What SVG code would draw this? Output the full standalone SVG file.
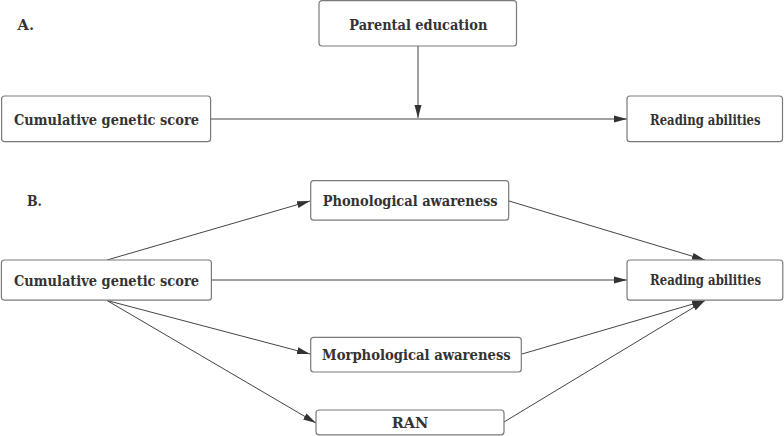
<svg xmlns="http://www.w3.org/2000/svg" width="784" height="436" viewBox="0 0 784 436">
<style>
.box{fill:#fff;stroke:#7a7a7a;stroke-width:1.2}
.t{font-family:'DejaVu Serif','Liberation Serif',serif;font-weight:700;font-size:14px;fill:#333;text-anchor:middle}
.l{font-family:'DejaVu Serif','Liberation Serif',serif;font-weight:700;font-size:14px;fill:#333}
.c{stroke:#444;stroke-width:1;fill:none;marker-end:url(#ah)}
</style>
<defs>
<marker id="ah" markerUnits="userSpaceOnUse" markerWidth="14" markerHeight="10" viewBox="0 0 14 10" refX="13" refY="5" orient="auto">
<path d="M0,1.5 L13,5 L0,8.5 Z" fill="#333"/>
</marker>
</defs>
<rect width="784" height="436" fill="#fff"/>
<text class="l" x="17.5" y="29.5" textLength="16.5" lengthAdjust="spacingAndGlyphs">A.</text>
<text class="l" x="27" y="206" textLength="15" lengthAdjust="spacingAndGlyphs">B.</text>
<g id="connectors">
<line class="c" x1="210.5" y1="119" x2="627" y2="119"/>
<line class="c" x1="418" y1="46" x2="418" y2="118"/>
<line class="c" x1="107" y1="260" x2="310" y2="201"/>
<line class="c" x1="211" y1="280" x2="627" y2="280"/>
<line class="c" x1="107" y1="300.5" x2="310" y2="354"/>
<line class="c" x1="107" y1="300.5" x2="316" y2="423"/>
<line class="c" x1="509" y1="201" x2="705" y2="260"/>
<line class="c" x1="522" y1="354" x2="705" y2="300.5"/>
<line class="c" x1="504" y1="422" x2="705" y2="300.5"/>
</g>
<g id="parental">
<rect class="box" x="319" y="0.6" width="197.5" height="45.4" rx="3"/>
<text class="t" x="418.3" y="29.5" textLength="138" lengthAdjust="spacingAndGlyphs">Parental education</text>
</g>
<g id="cgsA">
<rect class="box" x="1.6" y="96" width="209" height="45.7" rx="3"/>
<text class="t" x="106.5" y="124.5" textLength="185" lengthAdjust="spacingAndGlyphs">Cumulative genetic score</text>
</g>
<g id="readA">
<rect class="box" x="627" y="96" width="155.5" height="45.7" rx="3"/>
<text class="t" x="705.3" y="124.5" textLength="110.5" lengthAdjust="spacingAndGlyphs">Reading abilities</text>
</g>
<g id="phon">
<rect class="box" x="310.7" y="180.7" width="198" height="39.5" rx="3"/>
<text class="t" x="410.2" y="206" textLength="175" lengthAdjust="spacingAndGlyphs">Phonological awareness</text>
</g>
<g id="cgsB">
<rect class="box" x="1.4" y="260" width="210" height="40.2" rx="3"/>
<text class="t" x="106.5" y="285.5" textLength="185" lengthAdjust="spacingAndGlyphs">Cumulative genetic score</text>
</g>
<g id="readB">
<rect class="box" x="627" y="260" width="155.8" height="40.2" rx="3"/>
<text class="t" x="705.5" y="285" textLength="111" lengthAdjust="spacingAndGlyphs">Reading abilities</text>
</g>
<g id="morph">
<rect class="box" x="310.7" y="337.3" width="210.6" height="34.7" rx="3"/>
<text class="t" x="416.4" y="359.5" textLength="188.7" lengthAdjust="spacingAndGlyphs">Morphological awareness</text>
</g>
<g id="ran">
<rect class="box" x="316" y="410" width="188" height="24.8" rx="3"/>
<text class="t" x="410" y="428" textLength="36.6" lengthAdjust="spacingAndGlyphs">RAN</text>
</g>
</svg>
